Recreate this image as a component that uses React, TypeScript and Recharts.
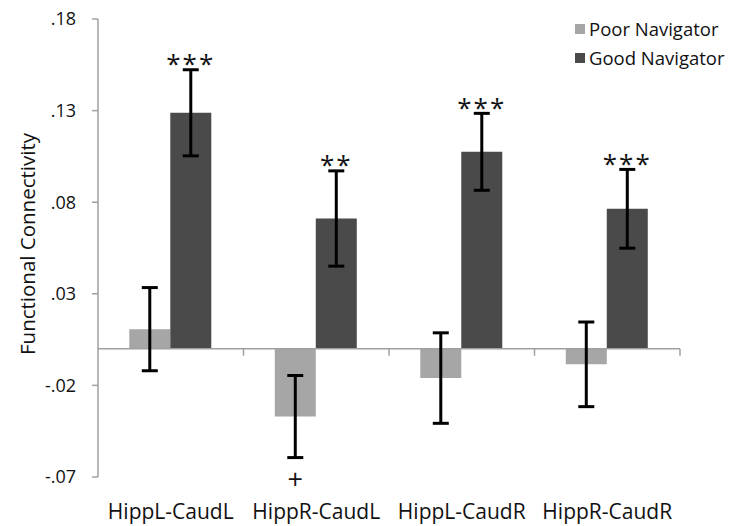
import { BarChart, Bar, XAxis, YAxis, ErrorBar, LabelList, ReferenceLine } from 'recharts'

const FONT = '"Open Sans", sans-serif'

const categories = ['HippL-CaudL', 'HippR-CaudL', 'HippL-CaudR', 'HippR-CaudR']
const poor = [0.0107, -0.037, -0.016, -0.0085]
const poorErr = [0.0227, 0.0224, 0.0247, 0.0231]
const good = [0.1288, 0.0711, 0.1075, 0.0764]
const goodErr = [0.0235, 0.026, 0.021, 0.0215]
const poorSig = ['', '+', '', '']
const goodSig = ['***', '**', '***', '***']
const yTicks = [-0.07, -0.02, 0.03, 0.08, 0.13, 0.18]

const POOR_COLOR = '#a6a6a6'
const GOOD_COLOR = '#4a4a4a'
const AXIS_COLOR = '#a0a0a0'

const data = categories.map((name, i) => ({
  name,
  poor: poor[i],
  poorErr: poorErr[i],
  good: good[i],
  goodErr: goodErr[i],
  poorSig: poorSig[i],
  goodSig: goodSig[i],
}))

const fmtTick = (v: number) => {
  const s = v.toFixed(2)
  return s.replace(/^(-?)0\./, '$1.')
}

// places a significance marker just beyond the end of the error bar
function sigLabel(values: number[], errs: number[], below: boolean) {
  return (props: any) => {
    const { x, y, width, height, value, index } = props
    if (!value) return null
    const v = values[index]
    const px = Math.abs(height / v)
    const top = Math.min(y, y + height)
    const bottom = Math.max(y, y + height)
    const cx = x + width / 2
    if (below) {
      const yy = bottom + errs[index] * px + 22
      return (
        <text x={cx} y={yy} dy="0.35em" textAnchor="middle" fontSize={27} fontFamily={FONT} fill="#111">
          {value}
        </text>
      )
    }
    const yy = top - errs[index] * px - 11
    return (
      <text x={cx} y={yy} dy="0.55em" textAnchor="middle" fontSize={26} letterSpacing={2} fontFamily={FONT} fill="#111">
        {value}
      </text>
    )
  }
}

function ZeroLine(props: any) {
  const { x1, y1, x2, y2 } = props
  const n = categories.length
  const marks = []
  for (let i = 1; i <= n; i++) {
    const xx = x1 + ((x2 - x1) * i) / n
    marks.push(<line key={i} x1={xx} x2={xx} y1={y1} y2={y1 + 7} stroke={AXIS_COLOR} strokeWidth={1.5} />)
  }
  return (
    <g>
      <line x1={x1} y1={y1} x2={x2} y2={y2} stroke={AXIS_COLOR} strokeWidth={1.5} />
      {marks}
    </g>
  )
}

const legendItems = [
  { label: 'Poor Navigator', color: POOR_COLOR },
  { label: 'Good Navigator', color: GOOD_COLOR },
]

function LegendBox() {
  return (
    <div style={{ position: 'absolute', left: 575, top: 14, fontFamily: FONT, fontSize: 18.5, color: '#111' }}>
      {legendItems.map((it) => (
        <div key={it.label} style={{ display: 'flex', alignItems: 'center', height: 29, whiteSpace: 'nowrap' }}>
          <span style={{ width: 10, height: 10, background: it.color, marginRight: 4, display: 'inline-block' }} />
          <span>{it.label}</span>
        </div>
      ))}
    </div>
  )
}

export default function App() {
  return (
    <div style={{ position: 'absolute', left: 0, top: 0, width: 729, height: 526, background: '#fff' }}>
      <BarChart
        width={729}
        height={526}
        data={data}
        margin={{ top: 19, right: 49, bottom: 0, left: 0 }}
        barCategoryGap="21.5%"
        barGap={0}
      >
        <XAxis
          dataKey="name"
          axisLine={false}
          tickLine={false}
          height={49}
          tickMargin={21}
          tick={{ fontSize: 21, fill: '#111', fontFamily: FONT }}
        />
        <YAxis
          width={98}
          domain={[-0.07, 0.18]}
          ticks={yTicks}
          tickFormatter={fmtTick}
          axisLine={{ stroke: AXIS_COLOR, strokeWidth: 1.5 }}
          tickLine={{ stroke: AXIS_COLOR, strokeWidth: 1.5 }}
          tickSize={6}
          tickMargin={16}
          tick={{ fontSize: 18, fill: '#111', fontFamily: FONT }}
          label={{
            content: ({ viewBox }: any) => {
              const cx = viewBox.x + 27
              const cy = viewBox.y + viewBox.height / 2 - 4
              return (
                <text
                  x={cx}
                  y={cy}
                  transform={`rotate(-90, ${cx}, ${cy})`}
                  textAnchor="middle"
                  dominantBaseline="central"
                  fontSize={20.5}
                  fontFamily={FONT}
                  fill="#111"
                >
                  Functional Connectivity
                </text>
              )
            },
          }}
        />
        <ReferenceLine y={0} shape={ZeroLine} />
        <Bar dataKey="poor" name="Poor Navigator" fill={POOR_COLOR} isAnimationActive={false}>
          <ErrorBar dataKey="poorErr" stroke="#000" strokeWidth={3} width={8} />
          <LabelList dataKey="poorSig" content={sigLabel(poor, poorErr, true)} />
        </Bar>
        <Bar dataKey="good" name="Good Navigator" fill={GOOD_COLOR} isAnimationActive={false}>
          <ErrorBar dataKey="goodErr" stroke="#000" strokeWidth={3} width={8} />
          <LabelList dataKey="goodSig" content={sigLabel(good, goodErr, false)} />
        </Bar>
      </BarChart>
      <LegendBox />
    </div>
  )
}
